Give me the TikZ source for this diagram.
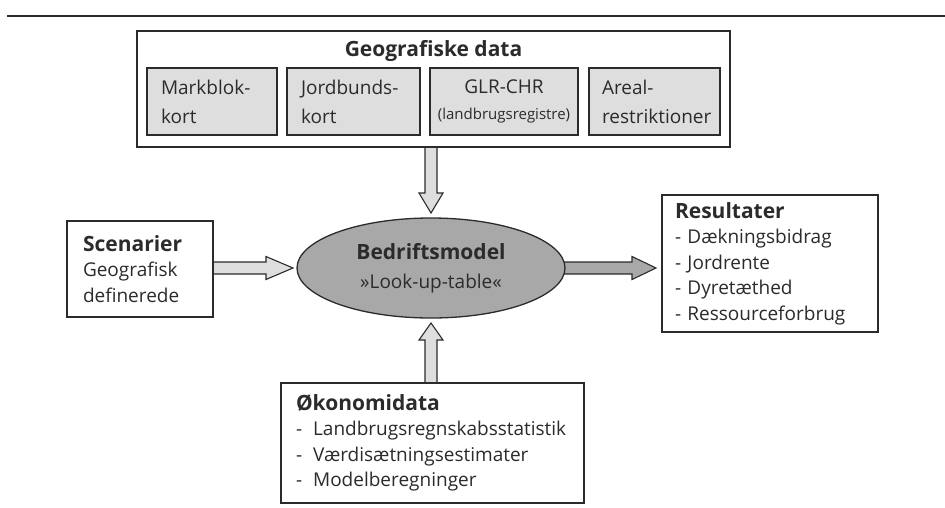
\documentclass[tikz,border=0pt]{standalone}
\usepackage{fontspec}
\setmainfont{Open Sans}
\usetikzlibrary{shapes.geometric,calc,backgrounds}
\definecolor{ln}{HTML}{2B2B2B}
\definecolor{lightg}{HTML}{DEDEDE}
\definecolor{midg}{HTML}{A8A8A8}
\begin{document}
\begin{tikzpicture}[x=1pt,y=-1pt,
  box/.style={draw=ln, line width=1.3pt, fill=white, inner ysep=0pt, outer sep=0pt, align=left,
    font=\fontsize{19}{25.5}\selectfont, text=ln},
  inbox/.style={draw=ln, line width=1.1pt, fill=lightg, inner ysep=0pt, outer sep=0pt,
    minimum height=67pt, align=left, font=\fontsize{19}{29}\selectfont, text=ln},
  ttl/.style={font=\fontsize{21}{26}\selectfont\bfseries},
  barrow/.style={draw=ln, line width=1.1pt, line join=miter},
  ell/.style={ellipse, draw=ln, line width=1.3pt, fill=midg, inner sep=0pt, outer sep=0pt,
    minimum width=268pt, minimum height=100pt, align=center, text=ln,
    font=\fontsize{19}{29}\selectfont}]
\useasboundingbox (0,0) rectangle (945,507);
% top rule
\coordinate (rl) at (7,16);
\coordinate (rr) at (945,16);
\draw[line width=2.5pt, ln] (rl) -- (rr);

% geographic data box
\node[box, minimum width=593pt, minimum height=116pt] (geo) at (433.5,89) {};
\node[text=ln, font=\fontsize{21}{26}\selectfont\bfseries] (geot) at (433.5,51) {Geografiske data};
\node[inbox, inner xsep=14pt, text width=102pt] (mb) at (212,101.5) {Markblok-\\kort};
\node[inbox, inner xsep=14pt, text width=105pt] (jb) at (353.5,101.5) {Jordbunds-\\kort};
\node[inbox, inner xsep=4pt, text width=140pt, align=center] (glr) at (504,101.5)
  {GLR-CHR\\[-3pt]{\fontsize{15}{20}\selectfont (landbrugsregistre)}};
\node[inbox, inner xsep=13pt, text width=105pt] (ar) at (654.5,101.5) {Areal-\\restriktioner};

% central model
\node[ell] (model) at (431,268) {{\fontsize{21}{29}\selectfont\bfseries Bedriftsmodel}\\»Look-up-table«};

% scenarier
\node[box, inner xsep=16pt, text width=114pt, minimum height=96pt] (scen) at (140,269)
  {{\fontsize{21}{26}\selectfont\bfseries Scenarier}\\Geografisk\\definerede};

% resultater
\node[box, inner xsep=13pt, text width=190pt, minimum height=137pt] (res) at (770,263.5)
  {{\fontsize{21}{26}\selectfont\bfseries Resultater}\\- Dækningsbidrag\\- Jordrente\\- Dyretæthed\\- Ressourceforbrug};

% okonomidata
\node[box, inner xsep=15pt, text width=273pt, minimum height=120pt] (oko) at (432.5,443)
  {{\fontsize{21}{26}\selectfont\bfseries Økonomidata}\\-\hspace{11pt}Landbrugsregnskabsstatistik\\-\hspace{11pt}Værdisætningsestimater\\-\hspace{11pt}Modelberegninger};

% block arrows
\begin{scope}[on background layer]
\draw[barrow, fill=lightg] let \p1=(geo.south -| model.north), \p2=(model.north) in
  (\x1-6pt,\y1) -- (\x1-6pt,\y2+25pt) -- (\x1-12pt,\y2+25pt) -- (\x1,\y2+5pt)
  -- (\x1+12pt,\y2+25pt) -- (\x1+6pt,\y2+25pt) -- (\x1+6pt,\y1);
\draw[barrow, fill=lightg] let \p1=(oko.north -| model.south), \p2=(model.south) in
  (\x1-6pt,\y1) -- (\x1-6pt,\y2-22pt) -- (\x1-12pt,\y2-22pt) -- (\x1,\y2-5pt)
  -- (\x1+12pt,\y2-22pt) -- (\x1+6pt,\y2-22pt) -- (\x1+6pt,\y1);
\draw[barrow, fill=lightg] let \p1=(scen.east |- model.west), \p2=(model.west) in
  (\x1,\y1+6pt) -- (\x2-31pt,\y1+6pt) -- (\x2-31pt,\y1+11.5pt) -- (\x2-4pt,\y1)
  -- (\x2-31pt,\y1-11.5pt) -- (\x2-31pt,\y1-6pt) -- (\x1,\y1-6pt);
\draw[barrow, fill=midg] let \p1=(model.east), \p2=(res.west |- model.east) in
  (\x1-3pt,\y1+6pt) -- (\x2-30pt,\y1+6pt) -- (\x2-30pt,\y1+11.5pt) -- (\x2-6pt,\y1)
  -- (\x2-30pt,\y1-11.5pt) -- (\x2-30pt,\y1-6pt) -- (\x1-3pt,\y1-6pt);
\end{scope}
\end{tikzpicture}
\end{document}
